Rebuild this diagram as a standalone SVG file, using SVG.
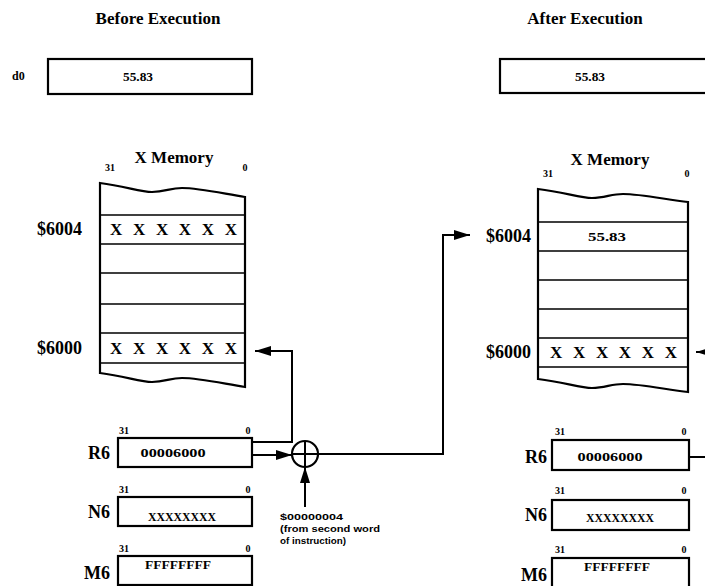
<svg xmlns="http://www.w3.org/2000/svg" width="705" height="586" viewBox="0 0 705 586">
<style>
.t{font-family:"Liberation Serif","Times New Roman",serif;font-weight:bold;fill:#000}
.h{font-size:17px;text-anchor:middle}
.lbl{font-size:18px;text-anchor:end}
.bit{font-size:10px;text-anchor:middle}
.val{font-size:12px;text-anchor:middle}
.xs{font-size:17px}
.s{font-family:"Liberation Sans",Arial,sans-serif;font-weight:bold;font-size:9px;fill:#000}
.box{fill:#fff;stroke:#000;stroke-width:2.2}
.row{stroke:#000;stroke-width:1.5;fill:none}
.c{fill:none;stroke:#000;stroke-width:2}
</style>
<defs>
<marker id="arr" viewBox="0 0 16 10" refX="16" refY="5" markerWidth="16" markerHeight="10" orient="auto" markerUnits="userSpaceOnUse">
<path d="M0,0 L16,5 L0,10 Z" fill="#000"/>
</marker>
</defs>

<g id="title-before"><text class="t h" x="158" y="24">Before Execution</text></g>
<g id="title-after"><text class="t h" x="585" y="24">After Execution</text></g>

<g id="d0-before">
<text class="t" x="12" y="80" font-size="12">d0</text>
<rect class="box" x="48" y="59" width="204" height="35"/>
<text class="t val" x="138" y="81" textLength="30" lengthAdjust="spacingAndGlyphs">55.83</text>
</g>
<g id="d0-after">
<text class="t" x="525" y="80" font-size="12">d0</text>
<rect class="box" x="500" y="59" width="220" height="34"/>
<text class="t val" x="590" y="81" textLength="30" lengthAdjust="spacingAndGlyphs">55.83</text>
</g>

<g id="xmem-before">
<text class="t h" x="174" y="163">X Memory</text>
<text class="t bit" x="110" y="171">31</text>
<text class="t bit" x="245" y="171">0</text>
<path class="box" d="M100,183 C125,186 140,192 152,192 C165,192 170,188 182,188 C200,188 225,194 245,197 L245,387 C225,384 200,378 182,378 C170,378 165,382 152,382 C140,382 125,376 100,373 Z"/>
<path class="row" d="M100,215H245M100,244H245M100,273H245M100,304H245M100,333H245M100,363H245"/>
<text class="t xs" x="110" y="235" textLength="127" lengthAdjust="spacing">X X X X X X</text>
<text class="t xs" x="110" y="354" textLength="127" lengthAdjust="spacing">X X X X X X</text>
<text class="t lbl" x="82" y="235">$6004</text>
<text class="t lbl" x="82" y="354">$6000</text>
</g>

<g id="xmem-after">
<text class="t h" x="610" y="165">X Memory</text>
<text class="t bit" x="548" y="177">31</text>
<text class="t bit" x="687" y="177">0</text>
<path class="box" d="M538,189 C564,192 580,198 592,198 C605,198 611,194 623,194 C642,194 668,200 688,202 L688,392 C668,390 642,384 623,384 C611,384 605,388 592,388 C580,388 564,382 538,379 Z"/>
<path class="row" d="M538,222H688M538,251H688M538,280H688M538,309H688M538,338H688M538,367H688"/>
<text class="t val" x="607" y="241" textLength="38" lengthAdjust="spacingAndGlyphs">55.83</text>
<text class="t xs" x="550" y="358" textLength="127" lengthAdjust="spacing">X X X X X X</text>
<text class="t lbl" x="531" y="242">$6004</text>
<text class="t lbl" x="531" y="358">$6000</text>
</g>

<g id="r6-before">
<text class="t lbl" x="110" y="459">R6</text>
<text class="t bit" x="124" y="434">31</text>
<text class="t bit" x="248" y="434">0</text>
<rect class="box" x="118" y="438" width="134" height="29"/>
<text class="t val" x="173" y="457" textLength="65" lengthAdjust="spacingAndGlyphs">00006000</text>
</g>
<g id="n6-before">
<text class="t lbl" x="110" y="518">N6</text>
<text class="t bit" x="124" y="493">31</text>
<text class="t bit" x="248" y="493">0</text>
<rect class="box" x="118" y="497" width="134" height="29"/>
<text class="t val" x="182" y="521" textLength="68" lengthAdjust="spacingAndGlyphs">XXXXXXXX</text>
</g>
<g id="m6-before">
<text class="t lbl" x="110" y="579">M6</text>
<text class="t bit" x="124" y="552">31</text>
<text class="t bit" x="248" y="552">0</text>
<rect class="box" x="118" y="556" width="134" height="29"/>
<text class="t val" x="178" y="569" textLength="66" lengthAdjust="spacingAndGlyphs">FFFFFFFF</text>
</g>

<g id="r6-after">
<text class="t lbl" x="547" y="463">R6</text>
<text class="t bit" x="560" y="435">31</text>
<text class="t bit" x="684" y="435">0</text>
<rect class="box" x="552" y="440" width="137" height="30"/>
<text class="t val" x="610" y="461" textLength="65" lengthAdjust="spacingAndGlyphs">00006000</text>
</g>
<g id="n6-after">
<text class="t lbl" x="547" y="521">N6</text>
<text class="t bit" x="560" y="494">31</text>
<text class="t bit" x="684" y="494">0</text>
<rect class="box" x="552" y="500" width="137" height="30"/>
<text class="t val" x="620" y="522" textLength="68" lengthAdjust="spacingAndGlyphs">XXXXXXXX</text>
</g>
<g id="m6-after">
<text class="t lbl" x="547" y="581">M6</text>
<text class="t bit" x="560" y="553">31</text>
<text class="t bit" x="684" y="553">0</text>
<rect class="box" x="552" y="558" width="137" height="32"/>
<text class="t val" x="617" y="571" textLength="66" lengthAdjust="spacingAndGlyphs">FFFFFFFF</text>
</g>

<g id="adder">
<circle cx="305" cy="454" r="13" fill="#fff" stroke="#000" stroke-width="2.2"/>
<path d="M292,454H318M305,441V467" stroke="#000" stroke-width="2"/>
</g>

<g id="offset-label">
<text class="s" x="280" y="520" textLength="63" lengthAdjust="spacingAndGlyphs">$00000004</text>
<text class="s" x="280" y="532" textLength="100" lengthAdjust="spacingAndGlyphs">(from second word</text>
<text class="s" x="280" y="544" textLength="66" lengthAdjust="spacingAndGlyphs">of instruction)</text>
</g>

<g id="connectors">
<polyline class="c" points="252,442 292,442 292,351 255,351" marker-end="url(#arr)"/>
<line class="c" x1="252" y1="455" x2="292" y2="455" marker-end="url(#arr)"/>
<line class="c" x1="305" y1="507" x2="305" y2="467" marker-end="url(#arr)"/>
<polyline class="c" points="318,454 443,454 443,235 470,235" marker-end="url(#arr)"/>
<line class="c" x1="720" y1="352" x2="696" y2="352" marker-end="url(#arr)"/>
<line class="c" x1="689" y1="457" x2="705" y2="457"/>
</g>
</svg>
